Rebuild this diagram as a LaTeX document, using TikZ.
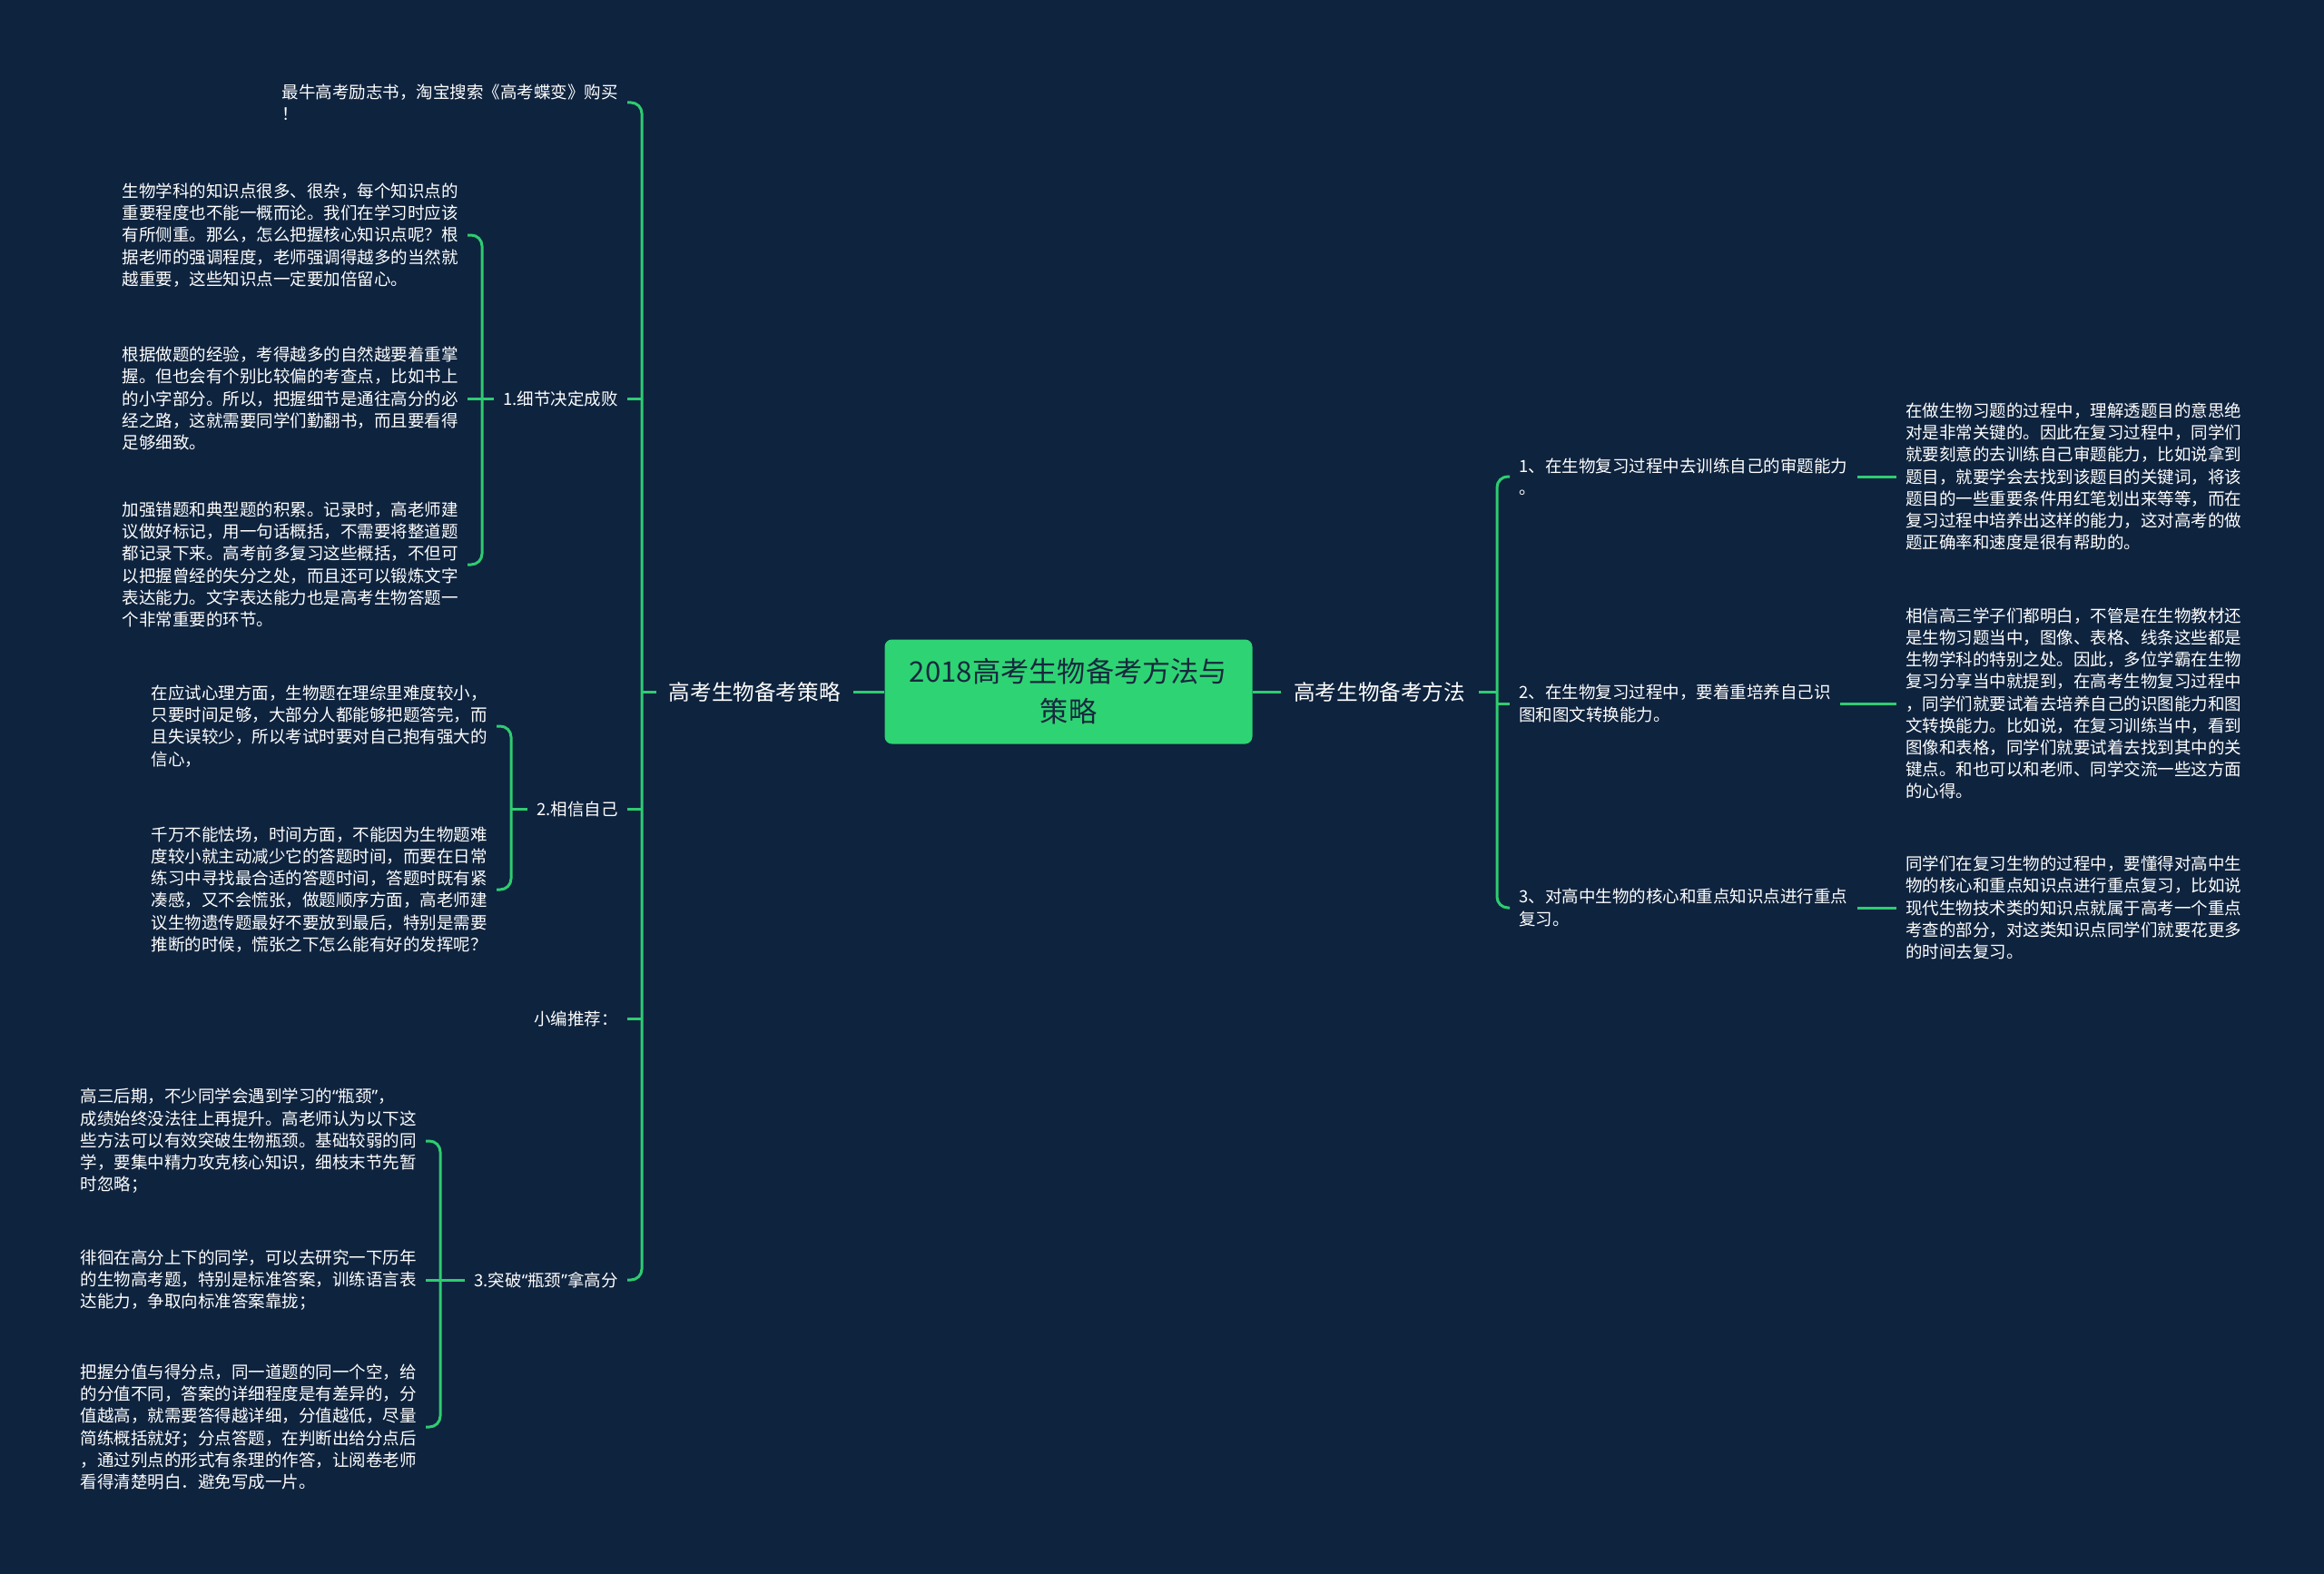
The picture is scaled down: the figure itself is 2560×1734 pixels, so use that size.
\documentclass[tikz,border=0pt]{standalone}
\usepackage{fontspec}
\usepackage{xcolor}
\usepackage{tikz}
\usetikzlibrary{positioning}
\newfontfamily\cjk{Noto Sans CJK SC}
\newfontfamily\quotefont{Noto Sans}
\newcommand\qopen{{\quotefont “}}
\newcommand\qclose{{\quotefont ”}}
\definecolor{bgnavy}{RGB}{14,35,62}
\definecolor{linegreen}{RGB}{46,204,113}
\definecolor{rootgreen}{RGB}{46,212,115}
\definecolor{roottext}{RGB}{24,40,62}

\begin{document}
\begin{tikzpicture}[
  x=0.5pt, y=-0.5pt,
  root/.style={rectangle, fill=rootgreen, rounded corners=4pt, minimum width=202.5pt,
               minimum height=57.5pt, align=center, text=roottext,
               font=\cjk\fontsize{15.6}{22}\selectfont},
  topic/.style={inner sep=7pt, text=white, font=\cjk\fontsize{11.8}{14}\selectfont},
  item/.style={inner sep=5pt, text=white, align=left, font=\cjk\fontsize{9.25}{12.1}\selectfont},
  link/.style={draw=linegreen, line width=1.5pt},
  hook/.style={link, rounded corners=6pt}
]
  \fill[bgnavy] (0,0) rectangle (2560,1734);

  \node[root] (root) at (1177,762) {2018高考生物备考方法与\\策略};
  \node[topic, left=17pt of root] (strat) {高考生物备考策略};
  \node[topic, right=15.5pt of root] (meth) {高考生物备考方法};
  \coordinate (ljoin) at (707,762);
  \coordinate (rjoin) at (1649,762);

  % left side
  \node[item, anchor=east] (tip) at (691,113) {最牛高考励志书，淘宝搜索《高考蝶变》购买\\！};
  \node[item, anchor=east] (det) at (691,439) {1.细节决定成败};
  \node[item, anchor=east] (conf) at (691,891) {2.相信自己};
  \node[item, anchor=east] (rec) at (691,1122) {小编推荐：};
  \node[item, anchor=east] (brk) at (691,1410) {3.突破\qopen 瓶颈\qclose 拿高分};
  \coordinate (detj) at (531,439);
  \coordinate (confj) at (563,891);
  \coordinate (brkj) at (485,1410);

  \node[item, anchor=east] (det1) at (515,259) {生物学科的知识点很多、很杂，每个知识点的\\重要程度也不能一概而论。我们在学习时应该\\有所侧重。那么，怎么把握核心知识点呢？根\\据老师的强调程度，老师强调得越多的当然就\\越重要，这些知识点一定要加倍留心。};
  \node[item, anchor=east] (det2) at (515,439) {根据做题的经验，考得越多的自然越要着重掌\\握。但也会有个别比较偏的考查点，比如书上\\的小字部分。所以，把握细节是通往高分的必\\经之路，这就需要同学们勤翻书，而且要看得\\足够细致。};
  \node[item, anchor=east] (det3) at (515,622) {加强错题和典型题的积累。记录时，高老师建\\议做好标记，用一句话概括，不需要将整道题\\都记录下来。高考前多复习这些概括，不但可\\以把握曾经的失分之处，而且还可以锻炼文字\\表达能力。文字表达能力也是高考生物答题一\\个非常重要的环节。};
  \node[item, anchor=east] (conf1) at (547,800) {在应试心理方面，生物题在理综里难度较小，\\只要时间足够，大部分人都能够把题答完，而\\且失误较少，所以考试时要对自己抱有强大的\\信心，};
  \node[item, anchor=east] (conf2) at (547,980) {千万不能怯场，时间方面，不能因为生物题难\\度较小就主动减少它的答题时间，而要在日常\\练习中寻找最合适的答题时间，答题时既有紧\\凑感，又不会慌张，做题顺序方面，高老师建\\议生物遗传题最好不要放到最后，特别是需要\\推断的时候，慌张之下怎么能有好的发挥呢？};
  \node[item, anchor=east] (brk1) at (469,1257) {高三后期，不少同学会遇到学习的\qopen 瓶颈\qclose ，\\成绩始终没法往上再提升。高老师认为以下这\\些方法可以有效突破生物瓶颈。基础较弱的同\\学，要集中精力攻克核心知识，细枝末节先暂\\时忽略；};
  \node[item, anchor=east] (brk2) at (469,1410) {徘徊在高分上下的同学，可以去研究一下历年\\的生物高考题，特别是标准答案，训练语言表\\达能力，争取向标准答案靠拢；};
  \node[item, anchor=east] (brk3) at (469,1572) {把握分值与得分点，同一道题的同一个空，给\\的分值不同，答案的详细程度是有差异的，分\\值越高，就需要答得越详细，分值越低，尽量\\简练概括就好；分点答题，在判断出给分点后\\，通过列点的形式有条理的作答，让阅卷老师\\看得清楚明白．避免写成一片。};

  % right side
  \node[item, anchor=west] (s1) at (1663,525) {1、在生物复习过程中去训练自己的审题能力\\。};
  \node[item, anchor=west] (s2) at (1663,775) {2、在生物复习过程中，要着重培养自己识\\图和图文转换能力。};
  \node[item, anchor=west] (s3) at (1663,1000) {3、对高中生物的核心和重点知识点进行重点\\复习。};
  \node[item, anchor=west] (r1) at (2089,525) {在做生物习题的过程中，理解透题目的意思绝\\对是非常关键的。因此在复习过程中，同学们\\就要刻意的去训练自己审题能力，比如说拿到\\题目，就要学会去找到该题目的关键词，将该\\题目的一些重要条件用红笔划出来等等，而在\\复习过程中培养出这样的能力，这对高考的做\\题正确率和速度是很有帮助的。};
  \node[item, anchor=west] (r2) at (2089,775) {相信高三学子们都明白，不管是在生物教材还\\是生物习题当中，图像、表格、线条这些都是\\生物学科的特别之处。因此，多位学霸在生物\\复习分享当中就提到，在高考生物复习过程中\\，同学们就要试着去培养自己的识图能力和图\\文转换能力。比如说，在复习训练当中，看到\\图像和表格，同学们就要试着去找到其中的关\\键点。和也可以和老师、同学交流一些这方面\\的心得。};
  \node[item, anchor=west] (r3) at (2089,1000) {同学们在复习生物的过程中，要懂得对高中生\\物的核心和重点知识点进行重点复习，比如说\\现代生物技术类的知识点就属于高考一个重点\\考查的部分，对这类知识点同学们就要花更多\\的时间去复习。};

  \draw[link] (root) -- (strat);
  \draw[link] (root) -- (meth);
  \draw[link] (strat) -- (ljoin);
  \draw[link] (meth) -- (rjoin);

  \draw[hook] (tip.east) -| (ljoin) |- (brk.east);
  \draw[link] (ljoin |- det.east) -- (det.east);
  \draw[link] (ljoin |- conf.east) -- (conf.east);
  \draw[link] (ljoin |- rec.east) -- (rec.east);

  \draw[link] (det) -- (detj);
  \draw[hook] (det1.east) -| (detj) |- (det3.east);
  \draw[link] (detj) -- (det2.east);
  \draw[link] (conf) -- (confj);
  \draw[hook] (conf1.east) -| (confj) |- (conf2.east);
  \draw[link] (brk) -- (brkj);
  \draw[hook] (brk1.east) -| (brkj) |- (brk3.east);
  \draw[link] (brkj) -- (brk2.east);

  \draw[hook] (s1.west) -| (rjoin) |- (s3.west);
  \draw[link] (rjoin |- s2.west) -- (s2.west);
  \draw[link] (s1) -- (r1);
  \draw[link] (s2) -- (r2);
  \draw[link] (s3) -- (r3);
\end{tikzpicture}
\end{document}
